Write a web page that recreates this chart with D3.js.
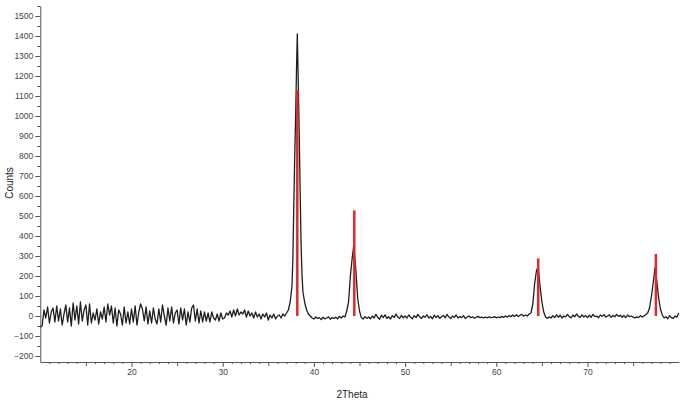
<!DOCTYPE html>
<html>
<head>
<meta charset="utf-8">
<script src="https://cdn.jsdelivr.net/npm/d3@7"></script>
<style>
  body { margin: 0; background: #fff; }
  svg { display: block; font-family: 'Liberation Sans', Arial, sans-serif; }
  .tick text { fill: #444; }
  .domain, .tick line { stroke: #555; }
</style>
</head>
<body>
<div id="chart"></div>
<script>
// scan: counts every 0.2 deg from 10 to 80 (2Theta)
var scanStart = 10
var scanStep = 0.2
var scanCounts = [
  -55, -50, 30, -10, 45, -35, 20, 40, -30, 50, -25,
  35, -45, 10, 55, -30, 40, -50, 65, -20, 50,
  -40, 70, -25, 30, 55, -45, 60, -35, 15, -20,
  35, -40, 20, -15, 45, -30, 60, 5, 50, -35,
  40, -50, 30, 10, -45, 45, -35, 20, -40, 35,
  -30, 50, -45, 20, 60, 35, -25, 45, -40, 25,
  -35, 40, -15, -40, 35, -30, 55, 0, -45, 40,
  -25, 45, -35, 15, 30, -40, 40, -20, 35, -45,
  20, -30, 40, 55, -25, 35, -35, 25, -30, 20,
  -25, 15, -30, 20, -10, -20, 10, -25, 15, -15,
  -10, 15, 5, 25, -5, 30, 0, 35, 5, 20,
  10, 30, -5, 25, 0, 15, -10, 20, -5, 10,
  -15, 10, -5, 15, -20, 5, -10, 10, -15, 0,
  5, -10, 10, 0, 15, 30, 70, 150, 560, 1000,
  1370, 880, 350, 120, 65, 30, 10, 0, -10, -15,
  -5, -12, -8, -18, -6, -14, -10, -4, -16, -8,
  -12, -6, -14, -2, -10, 0, -5, 25, 70, 200,
  290, 335, 230, 90, 25, -8, -15, -3, -12, -5,
  -14, 0, -10, 8, -6, -16, 4, -8, 6, -12,
  -4, -15, 2, -8, 10, -5, -12, 3, -9, 0,
  -10, 5, -6, -14, 2, -8, 8, -4, -12, 0,
  -6, 6, -10, -2, -14, 4, -8, 2, -12, -4,
  3, -9, 8, -5, -13, 0, -7, 5, -10, -3,
  -8, 2, -12, -5, 0, -9, -4, -11, -6, -2,
  -8, -5, -10, -6, -9, -4, -8, -7, -3, -9,
  -5, -8, -2, -7, 0, -6, 3, -4, 5, -2,
  6, -3, 4, 8, -1, 5, 0, 10, 15, 60,
  160, 225, 235, 150, 70, 20, -5, -12, -4, -10,
  2, -8, 6, -6, 4, -10, 0, -5, 8, -3,
  -9, 5, -4, 10, -2, -7, 6, -5, 2, -8,
  4, -6, 8, -3, 0, -9, 5, -2, 7, -5,
  0, 6, -7, 3, -4, 8, -2, 4, -6, 2,
  -8, 5, -3, 0, -6, -10, -4, -8, 2, -5,
  0, 8, 15, 40, 95, 165, 240, 175, 90, 35,
  5, -10, -4, -14, 2, -8, -12, 0, -6, 15
]

var peakDetail = [
  [37.7, 300], [37.9, 800], [38.1, 1250], [38.18, 1410], [38.3, 1130],
  [38.5, 600], [38.7, 200], [44.36, 348], [64.52, 240]
]

// reference pattern sticks (red)
var refTheta = [38.18, 44.43, 64.6, 77.5]
var refCounts = [1130, 528, 288, 310]

var yLabels = d3.range(-200, 1501, 100)
var xLabels = [20, 30, 40, 50, 60, 70]

var scan = scanCounts.map(function(c, i){ return [scanStart + i*scanStep, c] })
  .concat(peakDetail)
  .sort(function(a, b){ return a[0] - b[0] })

var W = 685, H = 403
var svg = d3.select('#chart').append('svg').attr('width', W).attr('height', H)

var x = d3.scaleLinear().domain([10, 80]).range([40.3, 678.7])
var y = d3.scaleLinear().domain([-230, 1550]).range([362, 6])

// y axis: labelled every 100, minor every 50
svg.append('g').attr('transform', 'translate(40.3,0)')
  .call(d3.axisLeft(y).tickValues(d3.range(-150, 1551, 100)).tickSize(3).tickSizeOuter(0).tickFormat(''))
  .call(g => g.select('.domain').remove())
svg.append('g').attr('transform', 'translate(40.3,0)')
  .call(d3.axisLeft(y).tickValues(yLabels).tickSize(5).tickSizeOuter(0).tickPadding(2).tickFormat(d3.format('d')))
  .call(g => g.selectAll('text').attr('font-size', 8.5))

// x axis: minor every 1, medium every 5, labels every 10
svg.append('g').attr('transform', 'translate(0,362)')
  .call(d3.axisBottom(x).tickValues(d3.range(11, 80, 1).filter(d => d % 5)).tickSize(2).tickSizeOuter(0).tickFormat(''))
  .call(g => g.select('.domain').remove())
svg.append('g').attr('transform', 'translate(0,362)')
  .call(d3.axisBottom(x).tickValues([15, 25, 35, 45, 55, 65, 75]).tickSize(4).tickSizeOuter(0).tickFormat(''))
  .call(g => g.select('.domain').remove())
svg.append('g').attr('transform', 'translate(0,362)')
  .call(d3.axisBottom(x).tickValues(xLabels).tickSize(5).tickSizeOuter(0).tickPadding(2))
  .call(g => g.selectAll('text').attr('font-size', 8.5))

svg.append('text')
  .attr('transform', 'translate(12.5,183) rotate(-90)')
  .attr('text-anchor', 'middle').attr('font-size', 10).attr('fill', '#222')
  .text('Counts')

svg.append('text')
  .attr('x', 352).attr('y', 398)
  .attr('text-anchor', 'middle').attr('font-size', 10).attr('fill', '#222')
  .text('2Theta')

var line = d3.line()
  .x(d => x(d[0]))
  .y(d => y(d[1]))

svg.append('path')
  .datum(scan)
  .attr('d', line)
  .attr('fill', 'none')
  .attr('stroke', '#1e1e1e')
  .attr('stroke-width', 1.3)
  .attr('stroke-linejoin', 'round')

svg.selectAll('line.ref')
  .data(refTheta)
  .join('line')
  .attr('class', 'ref')
  .attr('x1', d => x(d)).attr('x2', d => x(d))
  .attr('y1', y(0))
  .attr('y2', (d, i) => y(refCounts[i]))
  .attr('stroke', '#e02a2a')
  .attr('stroke-width', 2.5)
</script>
</body>
</html>
